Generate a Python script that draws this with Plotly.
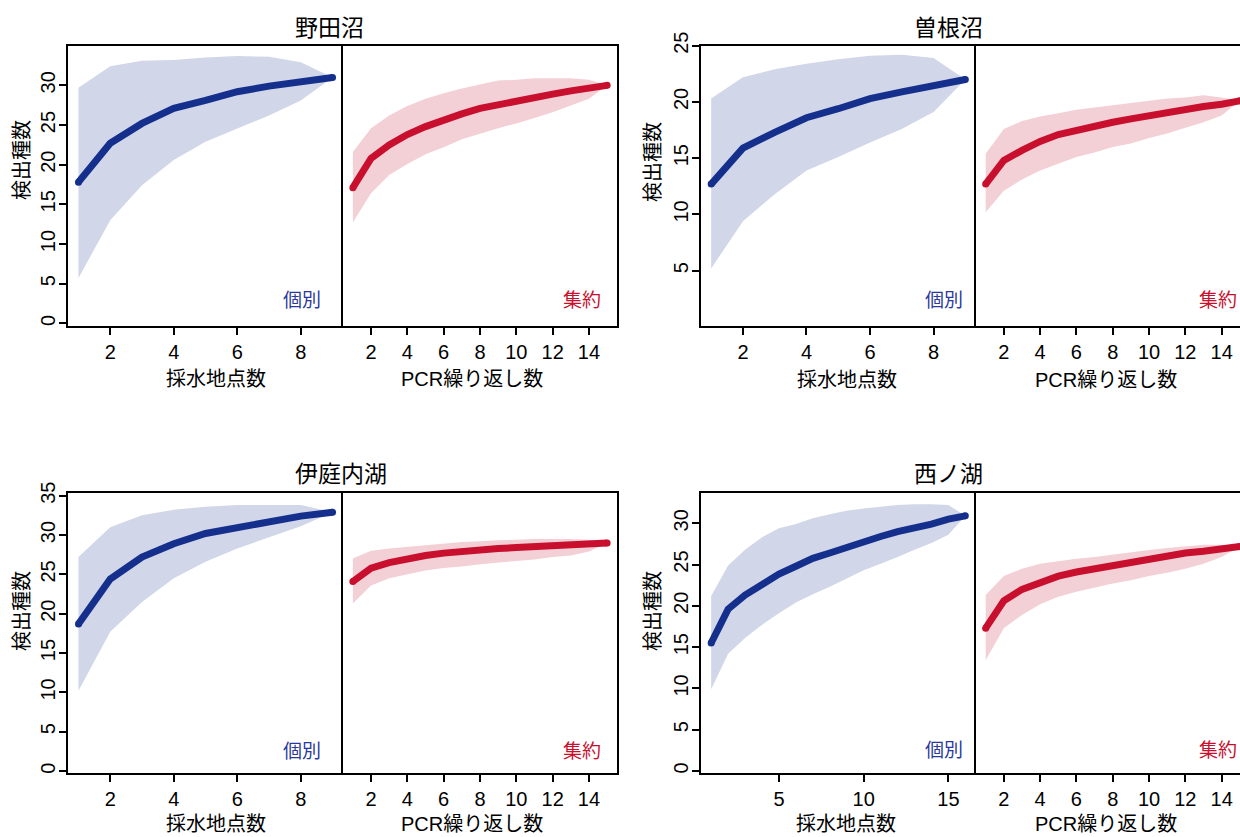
import plotly.graph_objects as go

W, H = 1240, 837

# ---------------- data ----------------
lake_names = ["野田沼", "曽根沼", "伊庭内湖", "西ノ湖"]

site_x_9 = [1, 2, 3, 4, 5, 6, 7, 8, 9]
site_x_16 = list(range(1, 17))
pcr_x = list(range(1, 16))

# 野田沼
noda_site_mean = [17.8, 22.7, 25.2, 27.1, 28.1, 29.2, 29.9, 30.4, 31.0]
noda_site_upper = [29.7, 32.4, 33.1, 33.2, 33.5, 33.7, 33.6, 32.9, 31.0]
noda_site_lower = [5.7, 13.0, 17.4, 20.6, 22.9, 24.6, 26.2, 28.1, 31.0]
noda_pcr_mean = [17.1, 20.8, 22.5, 23.8, 24.8, 25.7, 26.4, 27.1, 27.6, 28.0, 28.5, 28.9, 29.3, 29.6, 30.0]
noda_pcr_upper = [21.6, 24.6, 26.2, 27.4, 28.3, 29.0, 29.6, 30.1, 30.6, 30.7, 30.9, 30.9, 30.9, 30.7, 30.0]
noda_pcr_lower = [12.7, 16.4, 18.7, 20.1, 21.3, 22.2, 23.2, 23.9, 24.6, 25.2, 25.9, 26.6, 27.5, 28.3, 30.0]

# 曽根沼
sone_site_mean = [12.7, 15.9, 17.3, 18.6, 19.4, 20.3, 20.9, 21.5, 22.0]
sone_site_upper = [20.3, 22.2, 22.9, 23.4, 23.8, 24.1, 24.2, 23.9, 22.0]
sone_site_lower = [5.2, 9.4, 11.8, 13.9, 15.1, 16.4, 17.6, 19.1, 22.0]
sone_pcr_mean = [12.7, 14.8, 15.7, 16.5, 17.1, 17.5, 17.9, 18.2, 18.5, 18.8, 19.1, 19.4, 19.6, 19.8, 20.1]
sone_pcr_upper = [15.4, 17.6, 18.3, 18.7, 19.0, 19.3, 19.5, 19.7, 19.9, 20.1, 20.3, 20.4, 20.6, 20.4, 20.1]
sone_pcr_lower = [10.2, 12.1, 13.1, 13.9, 14.5, 15.1, 15.5, 16.0, 16.3, 16.8, 17.2, 17.7, 18.2, 18.8, 20.1]

# 伊庭内湖
iba_site_mean = [18.7, 24.4, 27.2, 28.9, 30.2, 31.0, 31.7, 32.4, 32.9]
iba_site_upper = [27.2, 31.0, 32.5, 33.2, 33.6, 33.8, 33.8, 33.8, 32.9]
iba_site_lower = [10.2, 17.7, 21.5, 24.5, 26.6, 28.3, 29.7, 31.1, 32.9]
iba_pcr_mean = [24.1, 25.8, 26.5, 27.0, 27.4, 27.7, 27.95, 28.2, 28.3, 28.4, 28.5, 28.6, 28.75, 28.9, 29.0]
iba_pcr_upper = [27.0, 28.0, 28.3, 28.5, 28.7, 28.9, 29.1, 29.2, 29.35, 29.4, 29.5, 29.5, 29.5, 29.4, 29.0]
iba_pcr_lower = [21.3, 23.6, 24.5, 25.0, 25.5, 25.8, 26.0, 26.3, 26.5, 26.7, 26.9, 27.2, 27.4, 27.9, 29.0]

# 西ノ湖
nishi_site_mean = [15.5, 19.6, 21.3, 22.7, 23.85, 24.8, 25.75, 26.4, 27.1, 27.9, 28.4, 29.0, 29.4, 29.9, 30.5, 30.9]
nishi_site_upper = [21.2, 24.9, 26.8, 28.3, 29.4, 29.9, 30.6, 31.1, 31.5, 31.8, 32.0, 32.2, 32.3, 32.3, 32.2, 30.9]
nishi_site_lower = [9.9, 14.2, 16.1, 17.7, 19.1, 20.4, 21.4, 22.3, 23.3, 24.3, 25.1, 25.9, 26.8, 27.6, 28.6, 30.9]
nishi_pcr_mean = [17.3, 20.6, 22.0, 22.9, 23.6, 24.1, 24.5, 24.9, 25.3, 25.75, 26.0, 26.4, 26.6, 26.8, 27.2]
nishi_pcr_upper = [21.3, 23.6, 24.5, 25.1, 25.4, 25.7, 25.9, 26.2, 26.5, 26.75, 27.0, 27.2, 27.4, 27.4, 27.2]
nishi_pcr_lower = [13.4, 17.3, 18.9, 20.2, 21.1, 21.7, 22.2, 22.7, 23.1, 23.6, 24.0, 24.5, 25.1, 25.9, 27.2]

y_title = "検出種数"
x_title_site = "採水地点数"
x_title_pcr = "PCR繰り返し数"
label_site = "個別"
label_pcr = "集約"

BLUE = "#15308C"
BLUE_FILL = "#D1D6E8"
RED = "#C8102E"
RED_FILL = "#F3D0D6"
TXT_BLUE = "#2A3A9C"
TXT_RED = "#C8102E"

LATIN = "Liberation Sans, Arial, sans-serif"
CJK = "Liberation Sans, Noto Sans CJK JP, sans-serif"


def px(xp):
    return xp / W


def py(yp):
    return 1 - yp / H


panels = [
    dict(name=lake_names[0], sx=site_x_9, sm=noda_site_mean, su=noda_site_upper, sl=noda_site_lower,
         pm=noda_pcr_mean, pu=noda_pcr_upper, pl=noda_pcr_lower,
         x0=68.3, mid=342.7, x1=617.3, top=45.7, bot=325.7, yr=[-0.3, 35.0], yt=[0, 5, 10, 15, 20, 25, 30],
         xrl=[0.68, 9.32], xtl=[2, 4, 6, 8], xrr=[0.44, 15.56], clip=False,
         title_x=293, title_y=28, ylab=(22, 160), xlab_y=379, sitelab_x=216, pcrlab_x=471.7,
         tag_y=300, tag_site_r=323.3, tag_pcr_r=603.3),
    dict(name=lake_names[1], sx=site_x_9, sm=sone_site_mean, su=sone_site_upper, sl=sone_site_lower,
         pm=sone_pcr_mean, pu=sone_pcr_upper, pl=sone_pcr_lower,
         x0=701, mid=975.5, x1=1240, top=45.7, bot=326, yr=[0.09, 25.0], yt=[5, 10, 15, 20, 25],
         xrl=[0.68, 9.32], xtl=[2, 4, 6, 8], xrr=[0.44, 15.01], clip=True,
         title_x=912, title_y=28, ylab=(653, 162), xlab_y=380, sitelab_x=846.7, pcrlab_x=1106.3,
         tag_y=300, tag_site_r=965, tag_pcr_r=1239.0),
    dict(name=lake_names[2], sx=site_x_9, sm=iba_site_mean, su=iba_site_upper, sl=iba_site_lower,
         pm=iba_pcr_mean, pu=iba_pcr_upper, pl=iba_pcr_lower,
         x0=68.3, mid=342.7, x1=617.3, top=493.3, bot=772.7, yr=[-0.2, 35.3], yt=[0, 5, 10, 15, 20, 25, 30, 35],
         xrl=[0.68, 9.32], xtl=[2, 4, 6, 8], xrr=[0.44, 15.56], clip=False,
         title_x=293, title_y=474, ylab=(22, 611), xlab_y=824, sitelab_x=215.8, pcrlab_x=471.7,
         tag_y=751, tag_site_r=323.3, tag_pcr_r=603.3),
    dict(name=lake_names[3], sx=site_x_16, sm=nishi_site_mean, su=nishi_site_upper, sl=nishi_site_lower,
         pm=nishi_pcr_mean, pu=nishi_pcr_upper, pl=nishi_pcr_lower,
         x0=701, mid=975.5, x1=1240, top=492.7, bot=772.7, yr=[-0.2, 33.7], yt=[0, 5, 10, 15, 20, 25, 30],
         xrl=[0.4, 16.6], xtl=[5, 10, 15], xrr=[0.44, 15.01], clip=True,
         title_x=912, title_y=474, ylab=(653, 611), xlab_y=824, sitelab_x=845.8, pcrlab_x=1106.3,
         tag_y=750, tag_site_r=965, tag_pcr_r=1239.0),
]

fig = go.Figure()
layout = dict(
    width=W, height=H, autosize=False,
    margin=dict(l=0, r=0, t=0, b=0, pad=0, autoexpand=False),
    paper_bgcolor="white", plot_bgcolor="white",
    showlegend=False,
)
annotations = []

axis_common = dict(showgrid=False, zeroline=False, linecolor="black", linewidth=2,
                   tickcolor="black", tickwidth=2, ticklen=7, automargin=False,
                   tickfont=dict(family=LATIN, size=20, color="black"))


def add_band(xs, upper, lower, mean, xa, ya, line_color, fill_color):
    fig.add_trace(go.Scatter(
        x=list(xs) + list(xs)[::-1], y=list(upper) + list(lower)[::-1],
        xaxis=xa, yaxis=ya, mode="lines", fill="toself", fillcolor=fill_color,
        line=dict(width=0, color=fill_color), hoverinfo="skip"))
    fig.add_trace(go.Scatter(
        x=xs, y=mean, xaxis=xa, yaxis=ya, mode="lines",
        line=dict(color=line_color, width=7)))
    fig.add_trace(go.Scatter(
        x=[xs[0], xs[-1]], y=[mean[0], mean[-1]], xaxis=xa, yaxis=ya, mode="markers",
        marker=dict(color=line_color, size=7), hoverinfo="skip"))


for i, p in enumerate(panels):
    li = 2 * i + 1
    ri = 2 * i + 2
    xl_name = "xaxis" if li == 1 else f"xaxis{li}"
    yl_name = "yaxis" if li == 1 else f"yaxis{li}"
    xr_name = f"xaxis{ri}"
    yr_name = f"yaxis{ri}"
    xa_l = "x" if li == 1 else f"x{li}"
    ya_l = "y" if li == 1 else f"y{li}"
    xa_r = f"x{ri}"
    ya_r = f"y{ri}"

    ydom = [py(p["bot"]), py(p["top"])]

    add_band(p["sx"], p["su"], p["sl"], p["sm"], xa_l, ya_l, BLUE, BLUE_FILL)
    add_band(pcr_x, p["pu"], p["pl"], p["pm"], xa_r, ya_r, RED, RED_FILL)

    layout[xl_name] = dict(axis_common, domain=[px(p["x0"]), px(p["mid"])], anchor=ya_l,
                           range=p["xrl"], tickmode="array", tickvals=p["xtl"],
                           ticks="outside", showline=True, mirror=True)
    layout[yl_name] = dict(axis_common, domain=ydom, anchor=xa_l, range=p["yr"],
                           tickmode="array", tickvals=p["yt"], ticks="outside",
                           showline=True, mirror=False, tickangle=-90, ticklabelstandoff=-4)
    layout[xr_name] = dict(axis_common, domain=[px(p["mid"]), px(p["x1"])], anchor=ya_r,
                           range=p["xrr"], tickmode="array", tickvals=[2, 4, 6, 8, 10, 12, 14],
                           ticks="outside", showline=True, mirror=True)
    layout[yr_name] = dict(axis_common, domain=ydom, anchor=xa_r, range=p["yr"],
                           showticklabels=False, ticks="", showline=True,
                           mirror=(not p["clip"]))

    # title
    annotations.append(dict(text=p["name"], xref="paper", yref="paper",
                            x=px(p["title_x"]), y=py(p["title_y"]), xanchor="left", yanchor="middle",
                            showarrow=False, font=dict(family=CJK, size=23, color="black")))
    # y title
    annotations.append(dict(text=y_title, xref="paper", yref="paper", textangle=-90,
                            x=px(p["ylab"][0]), y=py(p["ylab"][1]), xanchor="center", yanchor="middle",
                            showarrow=False, font=dict(family=CJK, size=20, color="black")))
    # x titles
    annotations.append(dict(text=x_title_site, xref="paper", yref="paper",
                            x=px(p["sitelab_x"]), y=py(p["xlab_y"]), xanchor="center", yanchor="middle",
                            showarrow=False, font=dict(family=CJK, size=20, color="black")))
    annotations.append(dict(text=x_title_pcr, xref="paper", yref="paper",
                            x=px(p["pcrlab_x"]), y=py(p["xlab_y"]), xanchor="center", yanchor="middle",
                            showarrow=False, font=dict(family=CJK, size=20, color="black")))
    # tags
    annotations.append(dict(text=label_site, xref="paper", yref="paper",
                            x=px(p["tag_site_r"]), y=py(p["tag_y"]), xanchor="right", yanchor="middle",
                            showarrow=False, font=dict(family=CJK, size=19, color=TXT_BLUE)))
    annotations.append(dict(text=label_pcr, xref="paper", yref="paper",
                            x=px(p["tag_pcr_r"]), y=py(p["tag_y"]), xanchor="right", yanchor="middle",
                            showarrow=False, font=dict(family=CJK, size=19, color=TXT_RED)))

layout["annotations"] = annotations
fig.update_layout(**layout)
fig.write_html("out.html")
